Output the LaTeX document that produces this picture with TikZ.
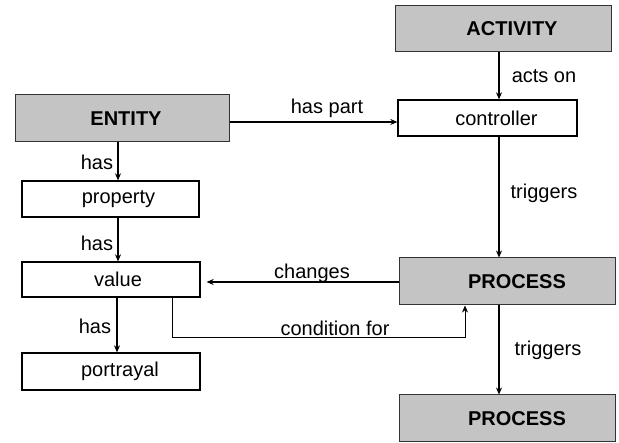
\documentclass[tikz,border=0pt]{standalone}
\usepackage{fontspec}
\setmainfont{Liberation Sans}
\usetikzlibrary{arrows.meta}
% shift a box caption to the right by #1 (adds twice that much space on the left)
\newcommand{\capshift}[2]{\hspace*{#1}\hspace*{#1}#2}
\begin{document}
\begin{tikzpicture}[x=1pt,y=-1pt,
  every node/.style={font=\fontsize{20}{22}\selectfont},
  plainbox/.style={draw=black, line width=1.3pt, fill=white, inner sep=0pt, anchor=center},
  graybox/.style={draw=black!80, line width=1pt, fill=black!23, inner sep=0pt, anchor=center,
    font=\fontsize{20}{22}\selectfont\bfseries},
  link/.style={line width=1.3pt, -{Stealth[length=7pt,width=6pt]}},
  thinlink/.style={line width=0.8pt, -{Stealth[length=7pt,width=6pt]}},
  lbl/.style={inner sep=0pt, anchor=center}]
\useasboundingbox (0,0) rectangle (619,443);

% concept boxes
\node[graybox, minimum width=214pt, minimum height=47pt] (entity) at (122,118.5) {\capshift{4pt}{ENTITY}};
\node[plainbox, minimum width=177pt, minimum height=36pt] (property) at (110.5,199) {\capshift{8pt}{property}};
\node[plainbox, minimum width=178pt, minimum height=35pt] (value) at (111,279.5) {\capshift{7pt}{value}};
\node[plainbox, minimum width=178pt, minimum height=37pt] (portrayal) at (111,371.5) {\capshift{9pt}{portrayal}};
\node[graybox, minimum width=216pt, minimum height=46pt] (activity) at (503,29) {\capshift{9pt}{ACTIVITY}};
\node[plainbox, minimum width=179pt, minimum height=36pt] (controller) at (487.5,118) {\capshift{9pt}{controller}};
\node[graybox, minimum width=216pt, minimum height=47pt] (proc1) at (507,281.5) {\capshift{10pt}{PROCESS}};
\node[graybox, minimum width=216pt, minimum height=47pt] (proc2) at (507,418.5) {\capshift{10pt}{PROCESS}};

% guide columns for the vertical connectors
\coordinate (lx) at (118,0);
\coordinate (vx) at (117,0);
\coordinate (rx) at (499,0);
\coordinate (cx) at (172,0);
\coordinate (px) at (465,0);
\coordinate (cy) at (0,337);

% connectors
\draw[link] (entity.east |- 0,122) -- (controller.west |- 0,122);
\draw[link] (entity.south -| lx) -- (property.north -| lx);
\draw[link] (property.south -| lx) -- (value.north -| lx);
\draw[link] (value.south -| vx) -- (portrayal.north -| vx);
\draw[link] (activity.south -| rx) -- (controller.north -| rx);
\draw[link] (controller.south -| rx) -- (proc1.north -| rx);
\draw[link] (proc1.south -| rx) -- (proc2.north -| rx);
\draw[link, shorten >=6pt] (proc1.west |- 0,282) -- (value.east |- 0,282);
\draw[thinlink] (value.south -| cx) -- (cx |- cy) -- (px |- cy) -- (proc1.south -| px);

% connector labels
\node[lbl] (lhaspart) at (327,108) {has part};
\node[lbl] (lactson) at (544,76) {acts on};
\node[lbl] (ltrig1) at (544,193) {triggers};
\node[lbl] (lhas1) at (97,162) {has};
\node[lbl] (lhas2) at (97,243) {has};
\node[lbl] (lhas3) at (95,326) {has};
\node[lbl] (lchanges) at (312,273) {changes};
\node[lbl] (lcond) at (335,328) {condition for};
\node[lbl] (ltrig2) at (548,350) {triggers};
\end{tikzpicture}
\end{document}
